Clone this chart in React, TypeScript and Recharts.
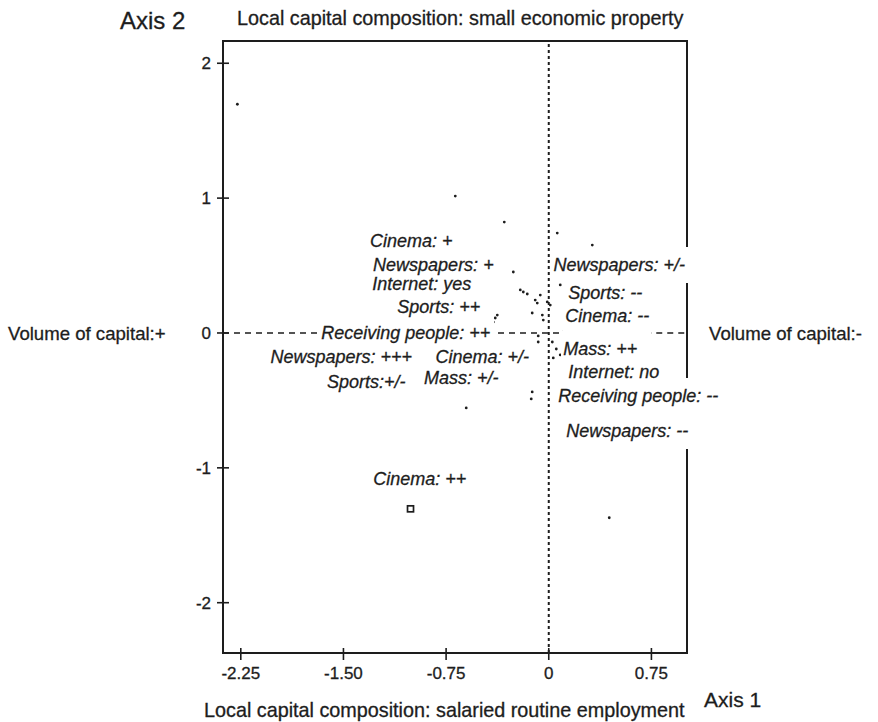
import React from 'react';
import {
  ScatterChart,
  Scatter,
  XAxis,
  YAxis,
  ReferenceLine,
  ReferenceArea
} from 'recharts';

const FONT = '"Liberation Sans", Arial, Helvetica, sans-serif';
const INK = '#1d1d1d';

// frame extents on axis 1 and axis 2
const xDomain = [-2.38, 1.01];
const yDomain = [-2.373, 2.165];

const xTicks = [-2.25, -1.5, -0.75, 0, 0.75];
const xTickLabels = ['-2.25', '-1.50', '-0.75', '0', '0.75'];
const yTicks = [2, 1, 0, -1, -2];
const yTickLabels = ['2', '1', '0', '-1', '-2'];

// modality labels, placed at their centre
const labelText = [
  'Cinema: +',
  'Newspapers: +',
  'Internet: yes',
  'Sports: ++',
  'Receiving people: ++',
  'Newspapers: +++',
  'Cinema: +/-',
  'Sports:+/-',
  'Mass: +/-',
  'Cinema: ++',
  'Newspapers: +/-',
  'Sports: --',
  'Cinema: --',
  'Mass: ++',
  'Internet: no',
  'Receiving people: --',
  'Newspapers: --'
];
const labelX = [
  -1.004, -0.843, -0.928, -0.803, -1.045, -1.516, -0.486, -1.333, -0.639, -0.942,
  0.515, 0.413, 0.427, 0.376, 0.475, 0.654, 0.573
];
const labelY = [
  0.681, 0.504, 0.363, 0.193, 0.0, -0.178, -0.178, -0.363, -0.333, -1.081,
  0.504, 0.296, 0.126, -0.119, -0.289, -0.467, -0.726
];

// individual points
const pointX = [
  -2.275, -0.683, -0.325, 0.062, 0.318, -0.259, -0.208, -0.186, -0.157, -0.062,
  -0.099, -0.084, -0.011, 0.011, 0.084, -0.391, -0.405, -0.376, -0.121, -0.04,
  -0.047, 0.106, 0.194, 0.281, -0.077, 0.026, 0.055, 0.033, 0.084, -0.077,
  -0.318, -0.128, -0.603, -0.121, 0.442
];
const pointY = [
  1.696, 1.015, 0.822, 0.741, 0.652, 0.452, 0.319, 0.304, 0.289, 0.281,
  0.244, 0.222, 0.23, 0.207, 0.356, 0.111, 0.081, 0.133, 0.148, 0.096,
  0.133, 0.007, 0.015, 0.015, -0.067, -0.067, -0.119, -0.185, -0.163, -0.022,
  -0.274, -0.489, -0.556, -0.437, -1.37
];

// the one point drawn as an open square
const markX = [-1.01];
const markY = [-1.304];

const labels = labelText.map((text, i) => ({ x: labelX[i], y: labelY[i], text, key: i }));
const points = pointX.map((x, i) => ({ x, y: pointY[i] }));
const marks = markX.map((x, i) => ({ x, y: markY[i] }));

// thin outline so the glyphs read as dark as the printed figure
const textInk = { fill: INK, stroke: INK, strokeWidth: 0.3, fontFamily: FONT };

const XTick = (props: any) => {
  const { x, y, payload } = props;
  const i = xTicks.indexOf(payload.value);
  return (
    <g>
      <line x1={x} x2={x} y1={y - 5} y2={y + 7} stroke={INK} strokeWidth={1.6} />
      <text x={x} y={y + 26} textAnchor="middle" fontSize={17} {...textInk}>
        {xTickLabels[i]}
      </text>
    </g>
  );
};

const YTick = (props: any) => {
  const { x, y, payload } = props;
  const i = yTicks.indexOf(payload.value);
  return (
    <g>
      <line x1={x - 6} x2={x + 6} y1={y} y2={y} stroke={INK} strokeWidth={1.6} />
      <text x={x - 12} y={y + 6} textAnchor="end" fontSize={17} {...textInk}>
        {yTickLabels[i]}
      </text>
    </g>
  );
};

const Dot = (props: any) => <circle cx={props.cx} cy={props.cy} r={1.4} fill={INK} />;

const Square = (props: any) => (
  <rect
    x={props.cx - 3}
    y={props.cy - 3}
    width={6}
    height={6}
    fill="#fff"
    stroke={INK}
    strokeWidth={1.7}
  />
);

// white box behind a label, sized by the text's own bounding box
const LabelBackground = (props: any) => {
  const { cx, cy, payload } = props;
  const id = `label-bg-${payload.key}`;
  return (
    <g>
      <defs>
        <filter id={id} x="-0.02" y="-0.36" width="1.04" height="1.72">
          <feFlood floodColor="#fff" />
        </filter>
      </defs>
      <text
        x={cx}
        y={cy}
        textAnchor="middle"
        dominantBaseline="central"
        fontSize={18}
        fontStyle="italic"
        fontFamily={FONT}
        fill="#fff"
        filter={`url(#${id})`}
      >
        {payload.text}
      </text>
    </g>
  );
};

const LabelText = (props: any) => {
  const { cx, cy, payload } = props;
  return (
    <text
      x={cx}
      y={cy}
      textAnchor="middle"
      dominantBaseline="central"
      fontSize={18}
      fontStyle="italic"
      {...textInk}
    >
      {payload.text}
    </text>
  );
};

export default function App() {
  return (
    <div style={{ position: 'absolute', left: 0, top: 0, width: 878, height: 722, background: '#fff' }}>
      <ScatterChart
        width={878}
        height={722}
        margin={{ top: 41, right: 191, bottom: 39, left: 163 }}
      >
        <XAxis
          type="number"
          dataKey="x"
          domain={xDomain}
          ticks={xTicks}
          axisLine={false}
          tickLine={false}
          tickSize={0}
          tickMargin={0}
          height={30}
          tick={<XTick />}
          interval={0}
        />
        <YAxis
          type="number"
          dataKey="y"
          domain={yDomain}
          ticks={yTicks}
          axisLine={false}
          tickLine={false}
          tickSize={0}
          tickMargin={0}
          width={60}
          tick={<YTick />}
          interval={0}
        />
        <ReferenceArea
          x1={xDomain[0]}
          x2={xDomain[1]}
          y1={yDomain[0]}
          y2={yDomain[1]}
          fill="none"
          stroke={INK}
          strokeWidth={2}
          fillOpacity={0}
        />
        <ReferenceLine x={0} stroke={INK} strokeWidth={2} strokeDasharray="3 3" />
        <ReferenceLine
          segment={[{ x: xDomain[0], y: 0 }, { x: 0.09, y: 0 }]}
          stroke={INK}
          strokeWidth={1.5}
          strokeDasharray="6 5"
        />
        <ReferenceLine
          segment={[{ x: 0.705, y: 0 }, { x: xDomain[1], y: 0 }]}
          stroke={INK}
          strokeWidth={1.5}
          strokeDasharray="6 5"
        />
        <Scatter data={points} shape={<Dot />} isAnimationActive={false} />
        <Scatter data={marks} shape={<Square />} isAnimationActive={false} />
        <Scatter data={labels} shape={<LabelBackground />} isAnimationActive={false} />
        <Scatter data={labels} shape={<LabelText />} isAnimationActive={false} />
      </ScatterChart>
      <svg
        width={878}
        height={722}
        style={{ position: 'absolute', left: 0, top: 0, pointerEvents: 'none' }}
      >
        <text x={120} y={29} fontSize={24} {...textInk}>Axis 2</text>
        <text x={237} y={25} fontSize={19.8} {...textInk}>
          Local capital composition: small economic property
        </text>
        <text x={8} y={340} fontSize={18.6} {...textInk}>Volume of capital:+</text>
        <text x={709} y={340} fontSize={18.6} {...textInk}>Volume of capital:-</text>
        <text x={204} y={717} fontSize={19.8} {...textInk}>
          Local capital composition: salaried routine employment
        </text>
        <text x={704} y={707} fontSize={21} {...textInk}>Axis 1</text>
      </svg>
    </div>
  );
}
